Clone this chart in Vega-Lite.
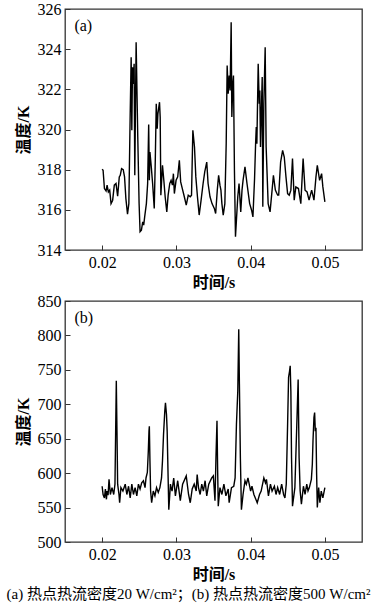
{
  "$schema": "https://vega.github.io/schema/vega-lite/v6.json",
  "padding": {"left": 6, "top": 0, "right": 8, "bottom": 2},
  "spacing": 1,
  "background": "white",
  "datasets": {
    "a": [
      {"t":0.02,"T":318.02},{"t":0.02013,"T":317.97},{"t":0.02031,"T":317.06},{"t":0.02053,"T":316.94},{"t":0.02067,"T":317.23},{"t":0.02084,"T":316.89},{"t":0.02102,"T":316.98},{"t":0.0212,"T":316.31},{"t":0.02142,"T":316.48},{"t":0.02164,"T":317.23},{"t":0.02187,"T":317.31},{"t":0.02209,"T":316.68},{"t":0.02231,"T":317.64},{"t":0.02244,"T":317.72},{"t":0.02262,"T":318.05},{"t":0.02284,"T":318.0},{"t":0.02302,"T":317.64},{"t":0.0232,"T":316.56},{"t":0.02342,"T":315.78},{"t":0.0236,"T":316.31},{"t":0.02378,"T":320.78},{"t":0.02391,"T":323.6},{"t":0.024,"T":319.96},{"t":0.02409,"T":323.1},{"t":0.02418,"T":322.27},{"t":0.02431,"T":323.27},{"t":0.0244,"T":317.72},{"t":0.02458,"T":324.34},{"t":0.0248,"T":319.63},{"t":0.02498,"T":316.31},{"t":0.02511,"T":314.91},{"t":0.02529,"T":314.99},{"t":0.02547,"T":315.4},{"t":0.0256,"T":315.24},{"t":0.02573,"T":315.65},{"t":0.02596,"T":316.31},{"t":0.02613,"T":317.31},{"t":0.02627,"T":320.25},{"t":0.02636,"T":317.47},{"t":0.02644,"T":318.88},{"t":0.02662,"T":318.14},{"t":0.0268,"T":317.31},{"t":0.02702,"T":316.07},{"t":0.02716,"T":318.47},{"t":0.02729,"T":321.28},{"t":0.02742,"T":320.04},{"t":0.02751,"T":320.78},{"t":0.02773,"T":321.36},{"t":0.02782,"T":320.62},{"t":0.02791,"T":316.73},{"t":0.02813,"T":318.22},{"t":0.02831,"T":317.47},{"t":0.02849,"T":316.65},{"t":0.02871,"T":315.9},{"t":0.02889,"T":316.73},{"t":0.02911,"T":317.31},{"t":0.02929,"T":317.47},{"t":0.02947,"T":317.23},{"t":0.0296,"T":317.8},{"t":0.02973,"T":316.81},{"t":0.02996,"T":317.47},{"t":0.03018,"T":317.64},{"t":0.0304,"T":318.47},{"t":0.03058,"T":317.39},{"t":0.0308,"T":317.06},{"t":0.03107,"T":316.65},{"t":0.03133,"T":316.23},{"t":0.0316,"T":316.73},{"t":0.03187,"T":316.65},{"t":0.03204,"T":316.73},{"t":0.03222,"T":319.96},{"t":0.03244,"T":319.13},{"t":0.03262,"T":317.64},{"t":0.03284,"T":316.65},{"t":0.03307,"T":315.74},{"t":0.03333,"T":316.48},{"t":0.0336,"T":317.31},{"t":0.03382,"T":317.89},{"t":0.03409,"T":318.38},{"t":0.03427,"T":317.31},{"t":0.03453,"T":316.65},{"t":0.0348,"T":316.31},{"t":0.03511,"T":316.07},{"t":0.03529,"T":315.82},{"t":0.03551,"T":316.98},{"t":0.03569,"T":317.72},{"t":0.03587,"T":317.23},{"t":0.036,"T":316.98},{"t":0.03613,"T":316.31},{"t":0.03631,"T":315.74},{"t":0.03653,"T":316.31},{"t":0.03671,"T":319.29},{"t":0.03684,"T":323.19},{"t":0.03698,"T":321.78},{"t":0.03711,"T":322.69},{"t":0.03724,"T":321.94},{"t":0.03738,"T":325.34},{"t":0.03747,"T":320.62},{"t":0.0376,"T":322.27},{"t":0.03769,"T":322.69},{"t":0.03782,"T":317.97},{"t":0.03796,"T":314.66},{"t":0.03809,"T":315.49},{"t":0.03827,"T":316.65},{"t":0.03844,"T":317.31},{"t":0.03867,"T":315.9},{"t":0.03884,"T":316.98},{"t":0.03898,"T":317.47},{"t":0.03924,"T":318.14},{"t":0.03951,"T":317.31},{"t":0.03987,"T":316.31},{"t":0.04013,"T":315.98},{"t":0.04031,"T":315.65},{"t":0.04053,"T":317.56},{"t":0.04067,"T":319.29},{"t":0.04076,"T":320.12},{"t":0.04084,"T":319.29},{"t":0.04102,"T":323.27},{"t":0.04116,"T":321.28},{"t":0.04124,"T":321.94},{"t":0.04133,"T":319.13},{"t":0.04147,"T":321.28},{"t":0.04156,"T":322.61},{"t":0.04164,"T":316.15},{"t":0.04178,"T":321.28},{"t":0.04196,"T":324.1},{"t":0.04209,"T":319.13},{"t":0.04236,"T":316.31},{"t":0.04262,"T":315.9},{"t":0.04289,"T":316.98},{"t":0.04307,"T":317.72},{"t":0.04333,"T":316.98},{"t":0.04364,"T":316.73},{"t":0.04378,"T":316.73},{"t":0.04404,"T":318.38},{"t":0.04431,"T":318.96},{"t":0.04453,"T":318.63},{"t":0.04476,"T":317.64},{"t":0.04498,"T":316.81},{"t":0.0452,"T":316.73},{"t":0.04542,"T":316.98},{"t":0.04564,"T":318.55},{"t":0.04587,"T":316.48},{"t":0.04609,"T":317.14},{"t":0.04644,"T":317.06},{"t":0.04676,"T":316.31},{"t":0.04707,"T":318.55},{"t":0.04733,"T":316.98},{"t":0.0476,"T":316.89},{"t":0.04787,"T":316.48},{"t":0.04822,"T":316.98},{"t":0.04853,"T":316.48},{"t":0.0488,"T":317.64},{"t":0.04898,"T":318.22},{"t":0.04929,"T":317.47},{"t":0.04956,"T":317.8},{"t":0.04973,"T":317.14},{"t":0.05,"T":316.4}
    ],
    "b": [
      {"t":0.02,"T":581},{"t":0.02013,"T":569},{"t":0.02031,"T":564},{"t":0.02044,"T":577},{"t":0.02058,"T":562},{"t":0.02067,"T":574},{"t":0.0208,"T":568},{"t":0.02093,"T":591},{"t":0.02111,"T":569},{"t":0.02133,"T":579},{"t":0.02156,"T":569},{"t":0.02173,"T":584},{"t":0.02191,"T":734},{"t":0.022,"T":661},{"t":0.02209,"T":584},{"t":0.02227,"T":569},{"t":0.02236,"T":557},{"t":0.02253,"T":579},{"t":0.0228,"T":574},{"t":0.02311,"T":584},{"t":0.02333,"T":569},{"t":0.02356,"T":581},{"t":0.02378,"T":564},{"t":0.024,"T":584},{"t":0.02422,"T":569},{"t":0.02444,"T":579},{"t":0.02467,"T":567},{"t":0.02489,"T":584},{"t":0.02511,"T":577},{"t":0.02533,"T":586},{"t":0.02556,"T":589},{"t":0.02578,"T":579},{"t":0.02591,"T":593},{"t":0.02609,"T":601},{"t":0.02622,"T":632},{"t":0.02631,"T":661},{"t":0.02636,"T":668},{"t":0.02644,"T":618},{"t":0.02653,"T":574},{"t":0.02667,"T":557},{"t":0.02689,"T":574},{"t":0.02711,"T":567},{"t":0.02733,"T":579},{"t":0.02756,"T":572},{"t":0.02778,"T":579},{"t":0.028,"T":593},{"t":0.02813,"T":618},{"t":0.02827,"T":656},{"t":0.02844,"T":690},{"t":0.02853,"T":702},{"t":0.02867,"T":685},{"t":0.02876,"T":661},{"t":0.02889,"T":593},{"t":0.02898,"T":547},{"t":0.0292,"T":584},{"t":0.02929,"T":579},{"t":0.02942,"T":574},{"t":0.02964,"T":593},{"t":0.02987,"T":567},{"t":0.03018,"T":589},{"t":0.03053,"T":560},{"t":0.03084,"T":584},{"t":0.03133,"T":596},{"t":0.03164,"T":569},{"t":0.03187,"T":557},{"t":0.03213,"T":577},{"t":0.0324,"T":584},{"t":0.03267,"T":574},{"t":0.0328,"T":598},{"t":0.03298,"T":579},{"t":0.0332,"T":569},{"t":0.03342,"T":584},{"t":0.03364,"T":574},{"t":0.03387,"T":589},{"t":0.03409,"T":567},{"t":0.03436,"T":584},{"t":0.03476,"T":593},{"t":0.03498,"T":596},{"t":0.0352,"T":560},{"t":0.03533,"T":622},{"t":0.03547,"T":676},{"t":0.03556,"T":603},{"t":0.03564,"T":552},{"t":0.03587,"T":579},{"t":0.03613,"T":569},{"t":0.0364,"T":584},{"t":0.03667,"T":567},{"t":0.03698,"T":577},{"t":0.03711,"T":557},{"t":0.03742,"T":579},{"t":0.03773,"T":581},{"t":0.03791,"T":593},{"t":0.03809,"T":671},{"t":0.03818,"T":695},{"t":0.03827,"T":719},{"t":0.0384,"T":809},{"t":0.03849,"T":729},{"t":0.03862,"T":622},{"t":0.03876,"T":547},{"t":0.03898,"T":569},{"t":0.03924,"T":589},{"t":0.03942,"T":584},{"t":0.03964,"T":593},{"t":0.04,"T":574},{"t":0.04018,"T":581},{"t":0.04044,"T":569},{"t":0.04089,"T":557},{"t":0.0412,"T":569},{"t":0.04142,"T":574},{"t":0.04178,"T":593},{"t":0.042,"T":586},{"t":0.04213,"T":591},{"t":0.0424,"T":567},{"t":0.04267,"T":584},{"t":0.04289,"T":574},{"t":0.0432,"T":581},{"t":0.04342,"T":569},{"t":0.04364,"T":579},{"t":0.04391,"T":569},{"t":0.04418,"T":584},{"t":0.04444,"T":569},{"t":0.04462,"T":564},{"t":0.0448,"T":584},{"t":0.04498,"T":671},{"t":0.04511,"T":739},{"t":0.04524,"T":748},{"t":0.04533,"T":756},{"t":0.04542,"T":719},{"t":0.04551,"T":622},{"t":0.04564,"T":552},{"t":0.04596,"T":579},{"t":0.04622,"T":671},{"t":0.0464,"T":736},{"t":0.04653,"T":622},{"t":0.04667,"T":574},{"t":0.04684,"T":555},{"t":0.04711,"T":581},{"t":0.04733,"T":569},{"t":0.04756,"T":584},{"t":0.04773,"T":574},{"t":0.04791,"T":579},{"t":0.04818,"T":591},{"t":0.04831,"T":613},{"t":0.0484,"T":647},{"t":0.04853,"T":681},{"t":0.04862,"T":688},{"t":0.04871,"T":661},{"t":0.0488,"T":666},{"t":0.04889,"T":598},{"t":0.04898,"T":550},{"t":0.04916,"T":579},{"t":0.04933,"T":557},{"t":0.04951,"T":574},{"t":0.04973,"T":564},{"t":0.05,"T":579}
    ],
    "labA": [{"t":0.01627,"T":325.15,"label":"(a)"}],
    "labB": [{"t":0.01627,"T":824.8,"label":"(b)"}]
  },
  "title": {
    "text": "(a) 热点热流密度20 W/cm²；(b) 热点热流密度500 W/cm²",
    "orient": "bottom",
    "anchor": "middle",
    "font": "Liberation Serif, Noto Sans CJK SC",
    "fontSize": 15,
    "fontWeight": "normal",
    "color": "#000",
    "offset": 4
  },
  "vconcat": [
    {
      "width": 297,
      "height": 241,
      "layer": [
        {
          "data": {"name": "a"},
          "mark": {"type": "line", "color": "#000", "strokeWidth": 1.4, "clip": true},
          "encoding": {
            "x": {"field": "t", "type": "quantitative", "title": "时间/s",
                  "scale": {"domain": [0.015, 0.055], "nice": false, "zero": false},
                  "axis": {"values": [0.02, 0.03, 0.04, 0.05], "format": ".2f", "tickCount": 20}},
            "y": {"field": "T", "type": "quantitative", "title": "温度/K",
                  "scale": {"domain": [314, 326], "nice": false, "zero": false},
                  "axis": {"values": [314, 316, 318, 320, 322, 324, 326], "format": "d", "tickCount": 20}}
          }
        },
        {
          "data": {"name": "labA"},
          "mark": {"type": "text", "align": "left", "baseline": "middle", "fontSize": 16, "font": "Liberation Serif", "color": "#000"},
          "encoding": {
            "x": {"field": "t", "type": "quantitative"},
            "y": {"field": "T", "type": "quantitative"},
            "text": {"field": "label"}
          }
        }
      ]
    },
    {
      "width": 297,
      "height": 241,
      "layer": [
        {
          "data": {"name": "b"},
          "mark": {"type": "line", "color": "#000", "strokeWidth": 1.4, "clip": true},
          "encoding": {
            "x": {"field": "t", "type": "quantitative", "title": "时间/s",
                  "scale": {"domain": [0.015, 0.055], "nice": false, "zero": false},
                  "axis": {"values": [0.02, 0.03, 0.04, 0.05], "format": ".2f", "tickCount": 20}},
            "y": {"field": "T", "type": "quantitative", "title": "温度/K",
                  "scale": {"domain": [500, 850], "nice": false, "zero": false},
                  "axis": {"values": [500, 550, 600, 650, 700, 750, 800, 850], "format": "d", "tickCount": 20, "labelOverlap": false}}
          }
        },
        {
          "data": {"name": "labB"},
          "mark": {"type": "text", "align": "left", "baseline": "middle", "fontSize": 16, "font": "Liberation Serif", "color": "#000"},
          "encoding": {
            "x": {"field": "t", "type": "quantitative"},
            "y": {"field": "T", "type": "quantitative"},
            "text": {"field": "label"}
          }
        }
      ]
    }
  ],
  "config": {
    "font": "Liberation Serif",
    "view": {"stroke": "#333", "strokeWidth": 1.3},
    "axis": {
      "domain": false,
      "grid": false,
      "ticks": true,
      "tickSize": -5,
      "tickColor": "#333",
      "tickWidth": 1,
      "labelOverlap": false,
      "labelFont": "Liberation Serif",
      "labelFontSize": 16,
      "labelColor": "#000",
      "labelPadding": 9,
      "titleFont": "Liberation Serif, Noto Sans CJK SC",
      "titleFontSize": 16,
      "titleFontWeight": "bold",
      "titleColor": "#000",
      "titlePadding": 4
    },
    "axisX": {"labelPadding": 9, "titlePadding": 4},
    "axisY": {"labelPadding": 9, "titlePadding": 6}
  }
}
